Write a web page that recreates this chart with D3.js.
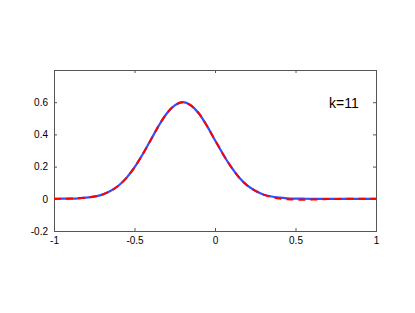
<!DOCTYPE html>
<html>
<head>
<meta charset="utf-8">
<script src="https://cdn.jsdelivr.net/npm/d3@7"></script>
<style>
  body { margin: 0; background: #fff; }
  text { font-family: "Liberation Sans", Arial, sans-serif; }
</style>
</head>
<body>
<div id="chart"></div>
<script>
// x samples
const xs = [-1, -0.95, -0.9, -0.85, -0.8, -0.75, -0.7, -0.65, -0.6, -0.55,
  -0.5, -0.45, -0.4, -0.35, -0.3, -0.25, -0.2, -0.15, -0.1, -0.05,
  0, 0.05, 0.1, 0.15, 0.2, 0.25, 0.3, 0.35, 0.4, 0.45,
  0.5, 0.55, 0.6, 0.65, 0.7, 0.75, 0.8, 0.85, 0.9, 0.95, 1];
// exact solution (blue, solid)
const exact = [0, 0.0005, 0.0013, 0.003, 0.007, 0.014, 0.026, 0.048, 0.081, 0.13,
  0.195, 0.275, 0.364, 0.453, 0.53, 0.58, 0.6, 0.58, 0.53, 0.453,
  0.364, 0.277, 0.198, 0.132, 0.083, 0.05, 0.027, 0.014, 0.007, 0.003,
  0.0013, 0.0005, 0, 0, 0, 0, 0, 0, 0, 0, 0];
// approximation k=11 (red, dashed)
const approx = [0, 0.0005, 0.0013, 0.003, 0.007, 0.014, 0.026, 0.048, 0.081, 0.13,
  0.195, 0.275, 0.364, 0.453, 0.53, 0.58, 0.6, 0.58, 0.53, 0.453,
  0.364, 0.277, 0.198, 0.132, 0.083, 0.05, 0.026, 0.011, 0.002, -0.003,
  -0.005, -0.006, -0.005, -0.004, -0.002, -0.001, 0, 0, 0, 0, 0];
const xTicks = [-1, -0.5, 0, 0.5, 1];
const yTicks = [-0.2, 0, 0.2, 0.4, 0.6];
const label = "k=11";

const width = 415, height = 313;
const margin = { left: 54, right: 39, top: 70, bottom: 82 };
const innerW = width - margin.left - margin.right;
const innerH = height - margin.top - margin.bottom;

const svg = d3.select("#chart").append("svg")
  .attr("width", width)
  .attr("height", height);

const g = svg.append("g")
  .attr("transform", `translate(${margin.left},${margin.top})`);

const x = d3.scaleLinear().domain([-1, 1]).range([0, innerW]);
const y = d3.scaleLinear().domain([-0.2, 0.8]).range([innerH, 0]);

const fmt = d => String(d);

// axes with inward ticks
const axisColor = "#555";
const tl = 3;
g.append("g").attr("transform", `translate(0,${innerH})`)
  .call(d3.axisBottom(x).tickValues(xTicks).tickSize(-tl).tickPadding(6).tickFormat(fmt));
g.append("g")
  .call(d3.axisTop(x).tickValues(xTicks).tickSize(-tl).tickFormat(""));
g.append("g")
  .call(d3.axisLeft(y).tickValues(yTicks).tickSize(-tl).tickPadding(6).tickFormat(fmt));
g.append("g").attr("transform", `translate(${innerW},0)`)
  .call(d3.axisRight(y).tickValues(yTicks).tickSize(-tl).tickFormat(""));

g.selectAll(".domain").attr("stroke", axisColor);
g.selectAll(".tick line").attr("stroke", axisColor);
g.selectAll(".tick text")
  .attr("fill", "#000")
  .style("font-size", "10px")
  .style("font-family", "'Liberation Sans', Arial, sans-serif");

const line = d3.line()
  .x((d, i) => x(xs[i]))
  .y(d => y(d))
  .curve(d3.curveMonotoneX);

g.append("path")
  .datum(exact)
  .attr("fill", "none")
  .attr("stroke", "#2e50ff")
  .attr("stroke-width", 2.2)
  .attr("d", line);

g.append("path")
  .datum(approx)
  .attr("fill", "none")
  .attr("stroke", "#ff0000")
  .attr("stroke-width", 2)
  .attr("stroke-dasharray", "7,5")
  .attr("d", line);

g.append("text")
  .attr("x", innerW - 47)
  .attr("y", 38)
  .style("font-size", "14px")
  .attr("fill", "#000")
  .text(label);
</script>
</body>
</html>
